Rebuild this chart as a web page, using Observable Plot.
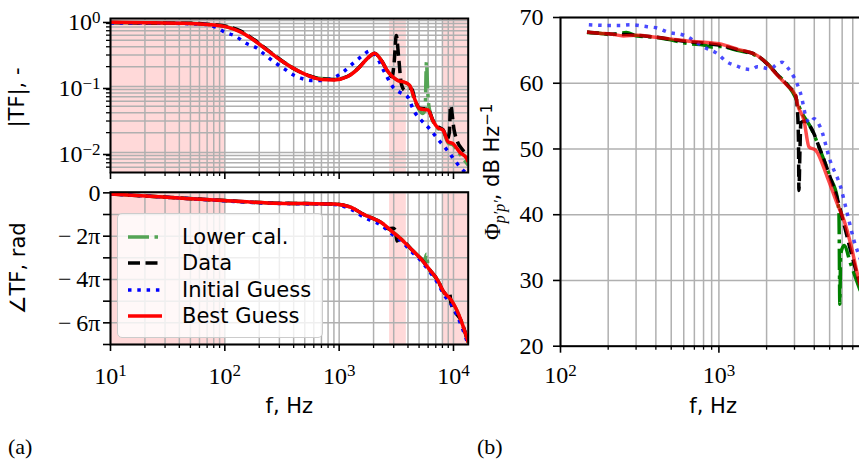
<!DOCTYPE html>
<html><head><meta charset="utf-8">
<script src="https://cdn.jsdelivr.net/npm/d3@7"></script>
<script src="https://cdn.jsdelivr.net/npm/@observablehq/plot@0.6"></script>
<style>
body{margin:0;background:#fff;overflow:hidden}
#root{position:relative;width:859px;height:463px;overflow:hidden;background:#fff}
#root svg{position:absolute;overflow:visible;max-width:none}
#root svg text.tk{font-family:"Liberation Serif","DejaVu Serif",serif !important;font-size:24px !important}
.plab{position:absolute;font-family:"Liberation Serif",serif;font-size:22px;line-height:22px}
#legend{position:absolute;left:117px;top:213px;width:204px;height:123px;background:rgba(255,255,255,0.8);border:1px solid #cccccc;border-radius:5px}
#legend .row{position:absolute;left:0;height:26px;width:204px}
#legend .row span{position:absolute;left:64px;top:0;font-family:"DejaVu Sans",sans-serif;font-size:21px;line-height:26px;color:#000}
#legend .row svg{position:absolute;left:9px;top:0}
</style></head><body><div id="root"></div>
<script>
// ---------- data: |TF| (panel a, top) ----------
const lowerMagF = [10, 22.4, 44, 70, 105, 138, 181, 237, 310, 405, 531, 695, 910, 1190, 1458, 1785, 2040, 2335, 2672, 2860, 3273, 3742, 4130, 4571, 5060, 5400, 5650, 5800, 5950, 6100, 6600, 7244, 8130, 8970, 9900, 11350, 13450];
const lowerMagV = [0.93, 0.92, 0.91, 0.875, 0.80, 0.675, 0.50, 0.352, 0.25, 0.186, 0.148, 0.132, 0.13, 0.143, 0.186, 0.27, 0.318, 0.25, 0.168, 0.147, 0.123, 0.115, 0.103, 0.062, 0.043, 0.039, 0.045, 0.234, 0.085, 0.05, 0.03, 0.0235, 0.021, 0.014, 0.013, 0.0095, 0.0064];
const dataMagF = [10, 22.4, 44, 70, 105, 138, 181, 237, 310, 405, 531, 695, 910, 1190, 1458, 1785, 2040, 2335, 2672, 2900, 3020, 3162, 3313, 3497, 3742, 4055, 4350, 4571, 5060, 5995, 6600, 7244, 8130, 8800, 9200, 9420, 10140, 10840, 12150, 13450];
const dataMagV = [0.93, 0.915, 0.91, 0.88, 0.81, 0.69, 0.51, 0.355, 0.25, 0.185, 0.148, 0.13, 0.128, 0.143, 0.187, 0.27, 0.315, 0.25, 0.166, 0.14, 0.22, 0.59, 0.28, 0.11, 0.088, 0.095, 0.09, 0.066, 0.047, 0.045, 0.031, 0.025, 0.022, 0.016, 0.02, 0.0515, 0.0216, 0.0145, 0.0107, 0.0082];
const initMagF = [10, 30, 68, 83, 100, 121, 158, 187, 221, 271, 331, 405, 480, 587, 695, 851, 1077, 1361, 1613, 1845, 1977, 2494, 2958, 3381, 3948, 4571, 5164, 5800, 6545, 7244, 8130, 9100, 10140, 11350, 12730, 13450];
const initMagV = [0.92, 0.91, 0.87, 0.79, 0.665, 0.59, 0.44, 0.39, 0.31, 0.234, 0.185, 0.147, 0.131, 0.123, 0.123, 0.131, 0.165, 0.234, 0.295, 0.343, 0.331, 0.165, 0.098, 0.082, 0.0705, 0.0408, 0.0316, 0.0257, 0.0203, 0.0162, 0.0128, 0.0101, 0.0078, 0.0061, 0.005, 0.0047];
const bestMagF = [10, 22.4, 44, 70, 105, 138, 181, 237, 310, 405, 531, 695, 910, 1190, 1458, 1785, 2040, 2335, 2672, 2860, 3273, 3742, 4130, 4571, 5060, 5995, 6600, 7244, 8130, 8970, 9900, 11350, 13100, 13450];
const bestMagV = [0.943, 0.922, 0.911, 0.870, 0.792, 0.665, 0.498, 0.351, 0.248, 0.185, 0.147, 0.128, 0.126, 0.142, 0.185, 0.272, 0.32, 0.25, 0.168, 0.147, 0.123, 0.116, 0.104, 0.065, 0.046, 0.044, 0.0305, 0.024, 0.0216, 0.0145, 0.0136, 0.0101, 0.008, 0.0072];

// ---------- data: phase (panel a, bottom), rad ----------
const lowerPhF = [10, 31.4, 98.6, 237, 500, 910, 1274, 1667, 1905, 2335, 2860, 3497, 4280, 5237, 5600, 5800, 6000, 7350, 8130, 9600, 11750, 13450];
const lowerPhV = [-0.15, -0.64, -1.125, -1.46, -1.55, -1.61, -2.1, -3.2, -3.6, -4.29, -5.5, -6.7, -8.15, -9.55, -9.9, -8.9, -10.6, -12.8, -14.26, -15.6, -18.66, -21.7];
const dataPhF = [10, 31.4, 98.6, 237, 500, 910, 1274, 1667, 1905, 2335, 2700, 2958, 3100, 3200, 3350, 3497, 4280, 5237, 6150, 7350, 8130, 8800, 9300, 9500, 11750, 13450];
const dataPhV = [-0.15, -0.64, -1.125, -1.46, -1.55, -1.61, -2.1, -3.2, -3.6, -4.29, -5.2, -5.15, -5.4, -7.0, -6.7, -6.75, -8.18, -9.64, -11.1, -12.8, -14.26, -14.8, -14.7, -16.0, -18.66, -21.7];
const initPhF = [10, 31.4, 98.6, 237, 500, 910, 1274, 1667, 1905, 2335, 2860, 3497, 4280, 5237, 6150, 7350, 8130, 9600, 11750, 13450];
const initPhV = [-0.15, -0.64, -1.15, -1.5, -1.6, -1.7, -2.4, -3.6, -4.0, -4.7, -5.9, -7.0, -8.5, -9.9, -11.4, -13.2, -14.6, -16.2, -19.3, -22.0];
const bestPhF = [10, 31.4, 98.6, 237, 500, 910, 1274, 1667, 1905, 2335, 2860, 3497, 4280, 5237, 6150, 7350, 8130, 9600, 11750, 13450];
const bestPhV = [-0.15, -0.64, -1.125, -1.46, -1.55, -1.61, -2.1, -3.2, -3.6, -4.29, -5.51, -6.72, -8.18, -9.64, -11.1, -12.8, -14.26, -15.6, -18.66, -21.7];

// ---------- data: spectrum (panel b), dB/Hz ----------
const lowerSpF = [147, 175, 207, 260, 305, 400, 495, 650, 804, 900, 1000, 1306, 1750, 2023, 2340, 2706, 3050, 3283, 3795, 4370, 5040, 5600, 5730, 5800, 5870, 6170, 6790, 7660, 8500];
const lowerSpV = [67.7, 67.6, 67.4, 67.7, 67.2, 67.0, 66.6, 66.0, 65.8, 65.5, 65.6, 65.0, 64.1, 63.0, 61.3, 59.8, 57.8, 55.85, 53.3, 49.76, 45.7, 42.5, 40.0, 26.4, 34.0, 35.3, 32.5, 29.0, 26.0];
const dataSpF = [147, 175, 207, 260, 305, 400, 495, 650, 804, 1000, 1306, 1750, 2023, 2340, 2706, 3050, 3130, 3180, 3200, 3250, 3290, 3450, 3795, 4370, 5040, 5600, 6170, 6790, 7660, 8500];
const dataSpV = [67.8, 67.6, 67.5, 67.4, 67.3, 67.0, 66.7, 66.3, 66.1, 65.8, 65.1, 64.2, 62.9, 61.3, 59.7, 58.1, 56.0, 51.0, 43.7, 50.0, 54.0, 54.2, 53.3, 49.8, 45.7, 42.4, 38.5, 34.5, 30.0, 27.0];
const initSpF = [151, 197, 240, 277, 353, 408, 472, 601, 804, 977, 1130, 1306, 1440, 1600, 1750, 2124, 2300, 2500, 2706, 2980, 3283, 3617, 3800, 3982, 4370, 5040, 5870, 6475, 7130, 7750, 8500];
const initSpV = [68.9, 68.8, 68.8, 68.9, 68.6, 68.4, 67.8, 67.3, 65.5, 64.5, 63.2, 62.6, 62.2, 62.1, 62.5, 62.2, 62.8, 63.2, 62.4, 60.9, 58.4, 54.3, 54.0, 54.6, 53.3, 48.2, 44.2, 40.1, 36.05, 33.5, 31.0];
const bestSpF = [147, 175, 207, 250, 305, 400, 495, 650, 804, 1000, 1306, 1750, 2023, 2340, 2706, 3050, 3125, 3447, 3705, 4083, 4840, 5600, 6170, 6790, 7660, 8500];
const bestSpV = [67.8, 67.6, 67.5, 67.2, 67.3, 67.0, 66.75, 66.4, 66.25, 66.0, 65.2, 64.2, 62.95, 61.2, 59.65, 58.1, 56.9, 54.3, 50.3, 49.8, 45.7, 41.6, 39.1, 35.55, 30.0, 26.5];

// ---------- shaded (excluded) bands, Hz ----------
const bandLo = [10, 2760, 8150];
const bandHi = [100, 3870, 14000];

// ---------- ticks ----------
const fMajorA = [10, 100, 1000, 10000];
const fMinorA = [20,30,40,50,60,70,80,90,200,300,400,500,600,700,800,900,2000,3000,4000,5000,6000,7000,8000,9000];
const magMajor = [1, 0.1, 0.01];
const magMinor = [0.006,0.007,0.008,0.009,0.02,0.03,0.04,0.05,0.06,0.07,0.08,0.09,0.2,0.3,0.4,0.5,0.6,0.7,0.8,0.9];
const phMajor = [0, -2*Math.PI, -4*Math.PI, -6*Math.PI];
const phMajorLabels = ["0", "−\u20092π", "−\u20094π", "−\u20096π"];
const phMinor = [-Math.PI, -3*Math.PI, -5*Math.PI, -7*Math.PI];
const fMajorB = [100, 1000];
const fMinorB = [200,300,400,500,600,700,800,900,2000,3000,4000,5000,6000,7000,8000];
const spTicks = [20, 30, 40, 50, 60, 70];

const SERIF = "Liberation Serif";
const SANS = "DejaVu Sans";
const GRID = {stroke: "#b0b0b0", strokeOpacity: 1, strokeWidth: 1.5};
const baseStyle = {background: "transparent", overflow: "visible"};
const pow10 = d => { const e = Math.round(Math.log10(d)); return "10^" + (e < 0 ? "−" + (-e) : String(e)); };
const none = () => "";

const styles = {
  lower: {stroke: "#55a455", strokeWidth: 3.5, strokeDasharray: "21,5.5,3.5,5.5"},
  data: {stroke: "#000", strokeWidth: 3.5, strokeDasharray: "12,5.5"},
  init: {stroke: "#0000ff", strokeWidth: 3.5, strokeDasharray: "3.5,5.8"},
  best: {stroke: "#ff0000", strokeWidth: 3.5}
};

function lines(sets) {
  return sets.map(([F, V, st]) => Plot.line(F, {x: F, y: V, ...st, curve: "monotone-x", clip: true, strokeLinejoin: "round", strokeLinecap: "butt"}));
}

const W = 480, ML = 110, MR = 12.3;
const root = document.getElementById("root");

// Panel (a) top: magnitude
const pMag = Plot.plot({
  width: W, height: 182, marginLeft: ML, marginRight: MR, marginTop: 18, marginBottom: 10,
  style: baseStyle,
  x: {type: "log", domain: [10, 13450]},
  y: {type: "log", domain: [0.00498, 1.072]},
  marks: [
    Plot.rect(bandLo, {x1: bandLo, x2: bandHi, fill: "#ff0000", fillOpacity: 0.15, clip: true}),
    Plot.gridX(fMajorA.concat(fMinorA), GRID),
    Plot.gridY(magMajor.concat(magMinor), GRID),
    ...lines([
      [lowerMagF, lowerMagV, styles.lower],
      [dataMagF, dataMagV, styles.data],
      [initMagF, initMagV, styles.init],
      [bestMagF, bestMagV, styles.best]
    ]),
    Plot.axisX(fMajorA, {tickSize: 7, tickFormat: none, strokeWidth: 1.6, label: null}),
    Plot.axisX(fMinorA, {tickSize: 4, tickFormat: none, strokeWidth: 1.3, label: null}),
    Plot.axisY(magMajor, {tickSize: 7, tickPadding: 3, tickFormat: pow10, strokeWidth: 1.6, label: null, dy: 2}),
    Plot.axisY(magMinor, {tickSize: 4, tickFormat: none, strokeWidth: 1.3, label: null}),
    Plot.text(["|TF|, -"], {frameAnchor: "left", dx: -93, dy: 2, rotate: -90, textAnchor: "middle", lineAnchor: "middle", fontFamily: SANS, fontSize: 21}),
    Plot.frame({stroke: "#000", strokeWidth: 2})
  ]
});

// Panel (a) bottom: phase
const pPh = Plot.plot({
  width: W, height: 250, marginLeft: ML, marginRight: MR, marginTop: 9.7, marginBottom: 250 - 9.7 - 152.3,
  style: baseStyle,
  x: {type: "log", domain: [10, 13450]},
  y: {domain: [-7 * Math.PI, 0.03 * Math.PI]},
  marks: [
    Plot.rect(bandLo, {x1: bandLo, x2: bandHi, fill: "#ff0000", fillOpacity: 0.15, clip: true}),
    Plot.gridX(fMajorA.concat(fMinorA), GRID),
    Plot.gridY(phMajor.concat(phMinor), GRID),
    ...lines([
      [lowerPhF, lowerPhV, styles.lower],
      [dataPhF, dataPhV, styles.data],
      [initPhF, initPhV, styles.init],
      [bestPhF, bestPhV, styles.best]
    ]),
    Plot.axisX(fMajorA, {tickSize: 7, tickPadding: 15, tickFormat: pow10, strokeWidth: 1.6, label: null}),
    Plot.axisX(fMinorA, {tickSize: 4, tickFormat: none, strokeWidth: 1.3, label: null}),
    Plot.axisY(phMajor, {tickSize: 7, tickPadding: 3, tickFormat: (d, i) => phMajorLabels[i], strokeWidth: 1.6, label: null}),
    Plot.axisY(phMinor, {tickSize: 7, tickFormat: none, strokeWidth: 1.6, label: null}),
    Plot.text(["∠TF, rad"], {frameAnchor: "left", dx: -92, rotate: -90, textAnchor: "middle", lineAnchor: "middle", fontFamily: SANS, fontSize: 21}),
    Plot.text(["f, Hz"], {frameAnchor: "bottom", dy: 62, textAnchor: "middle", lineAnchor: "middle", fontFamily: SANS, fontSize: 21}),
    Plot.frame({stroke: "#000", strokeWidth: 2})
  ]
});

// Panel (b): spectrum
const WB = 420, MLB = 90, innerB = 305.3;
const pSp = Plot.plot({
  width: WB, height: 430, marginLeft: MLB, marginRight: WB - MLB - innerB, marginTop: 17, marginBottom: 430 - 17 - 328.7,
  style: baseStyle,
  x: {type: "log", domain: [100, 8460]},
  y: {domain: [20, 70]},
  marks: [
    Plot.gridX(fMajorB.concat(fMinorB), GRID),
    Plot.gridY(spTicks, GRID),
    ...lines([
      [lowerSpF, lowerSpV, {stroke: "#008000", strokeWidth: 3.5, strokeDasharray: "21,5.5,3.5,5.5"}],
      [dataSpF, dataSpV, styles.data],
      [initSpF, initSpV, {stroke: "#2b2bff", strokeWidth: 3.5, strokeDasharray: "3.5,5.8", strokeOpacity: 0.85}],
      [bestSpF, bestSpV, {stroke: "#ff0000", strokeWidth: 3.5, strokeOpacity: 0.7}]
    ]),
    Plot.axisX(fMajorB, {tickSize: 7, tickPadding: 13, tickFormat: pow10, strokeWidth: 1.6, label: null}),
    Plot.axisX(fMinorB, {tickSize: 4, tickFormat: none, strokeWidth: 1.3, label: null}),
    Plot.axisY(spTicks, {tickSize: 7, tickPadding: 10, strokeWidth: 1.6, label: null}),
    Plot.text(["PHI"], {frameAnchor: "left", dx: -67, dy: -10, rotate: -90, textAnchor: "middle", lineAnchor: "middle", fontFamily: SANS, fontSize: 21}),
    Plot.text(["f, Hz"], {frameAnchor: "bottom", dy: 60.5, textAnchor: "middle", lineAnchor: "middle", fontFamily: SANS, fontSize: 21}),
    Plot.frame({stroke: "#000", strokeWidth: 2})
  ]
});

const NS = "http://www.w3.org/2000/svg";
function ts(parent, txt, attrs) {
  const t = document.createElementNS(NS, "tspan");
  for (const k in attrs) t.setAttribute(k, attrs[k]);
  t.textContent = txt;
  parent.appendChild(t);
  return t;
}
function fixText(svg) {
  d3.select(svg).selectAll("text").each(function () {
    if (this.children.length) return;
    const s = this.textContent;
    const isTick = /^(10\^|[0-9]|−)/.test(s);
    if (isTick) {
      this.classList.add("tk");
      this.setAttribute("font-family", "Liberation Serif, DejaVu Serif, serif");
      this.setAttribute("font-size", "24px");
    }
    if (s.startsWith("10^")) {
      this.textContent = "10";
      ts(this, s.slice(3), {dy: "-0.45em", "font-size": "17px"});
    } else if (s === "PHI") {
      this.textContent = "";
      ts(this, "Φ", {"font-family": SERIF, "font-size": "23px"});
      ts(this, "p′p′", {"font-family": SERIF, "font-style": "italic", "font-size": "16px", dy: "0.3em"});
      ts(this, ", dB Hz", {dy: "-0.3em"});
      ts(this, "−1", {"font-size": "15px", dy: "-0.45em"});
    }
  });
}
[pMag, pPh, pSp].forEach(fixText);

function place(svg, left, top) { svg.style.left = left + "px"; svg.style.top = top + "px"; root.appendChild(svg); }
place(pMag, 0, 0);
place(pPh, 0, 182);
place(pSp, 470, 0);

// legend
const legendItems = [
  {label: "Lower cal.", st: styles.lower},
  {label: "Data", st: styles.data},
  {label: "Initial Guess", st: styles.init},
  {label: "Best Guess", st: styles.best}
];
const leg = document.createElement("div");
leg.id = "legend";
legendItems.forEach((it, i) => {
  const row = document.createElement("div");
  row.className = "row";
  row.style.top = (9.7 + i * 26.4) + "px";
  const sv = document.createElementNS(NS, "svg");
  sv.setAttribute("width", 36); sv.setAttribute("height", 26);
  sv.style.position = "absolute";
  const ln = document.createElementNS(NS, "line");
  ln.setAttribute("x1", 1); ln.setAttribute("x2", 35); ln.setAttribute("y1", 13); ln.setAttribute("y2", 13);
  ln.setAttribute("stroke", it.st.stroke); ln.setAttribute("stroke-width", it.st.strokeWidth);
  if (it.st.strokeDasharray) ln.setAttribute("stroke-dasharray", it.st.strokeDasharray);
  sv.appendChild(ln);
  row.appendChild(sv);
  const sp = document.createElement("span");
  sp.textContent = it.label;
  row.appendChild(sp);
  leg.appendChild(row);
});
root.appendChild(leg);

const la = document.createElement("div"); la.className = "plab"; la.textContent = "(a)"; la.style.left = "8px"; la.style.top = "436px"; root.appendChild(la);
const lb = document.createElement("div"); lb.className = "plab"; lb.textContent = "(b)"; lb.style.left = "477px"; lb.style.top = "436px"; root.appendChild(lb);
</script></body></html>
